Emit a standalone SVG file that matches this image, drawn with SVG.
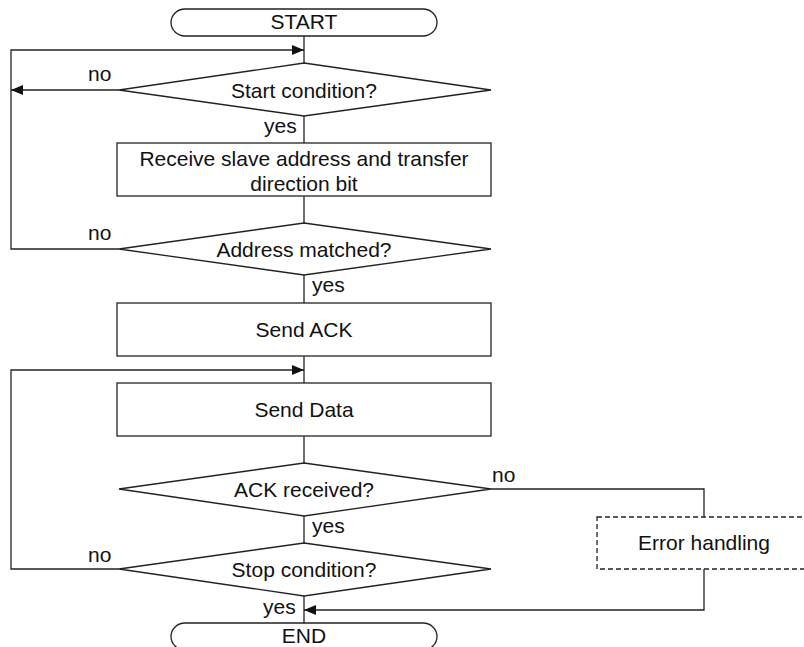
<svg xmlns="http://www.w3.org/2000/svg" width="804" height="647" viewBox="0 0 804 647">
<style>
.s{fill:#fff;stroke:#222;stroke-width:1.3}
.d{fill:#fff;stroke:#222;stroke-width:1.3;stroke-dasharray:5,3}
.c{fill:none;stroke:#222;stroke-width:1.3}
.t{font-family:"Liberation Sans",Arial,sans-serif;font-size:21px;fill:#111}
.m{text-anchor:middle}
</style>
<defs>
<marker id="ah" markerUnits="userSpaceOnUse" markerWidth="12" markerHeight="10" refX="12" refY="5" orient="auto">
<path d="M0,0 L12,5 L0,10 z" fill="#111"/>
</marker>
</defs>
<rect width="804" height="647" fill="#fff"/>
<g id="connectors">
<line class="c" x1="304" y1="36" x2="304" y2="63"/>
<line class="c" x1="304" y1="116" x2="304" y2="143"/>
<line class="c" x1="304" y1="196" x2="304" y2="223"/>
<line class="c" x1="304" y1="275" x2="304" y2="303"/>
<line class="c" x1="304" y1="356" x2="304" y2="383"/>
<line class="c" x1="304" y1="436" x2="304" y2="463"/>
<line class="c" x1="304" y1="516" x2="304" y2="543"/>
<line class="c" x1="304" y1="596" x2="304" y2="623"/>
<polyline class="c" points="119,90 11,90" marker-end="url(#ah)"/>
<polyline class="c" points="119,249 11,249 11,50 304,50" marker-end="url(#ah)"/>
<polyline class="c" points="119,569 11,569 11,370 304,370" marker-end="url(#ah)"/>
<polyline class="c" points="491,489 704,489 704,517"/>
<polyline class="c" points="704,569 704,610 304,610" marker-end="url(#ah)"/>
<text class="t" x="88" y="81">no</text>
<text class="t" x="264" y="133">yes</text>
<text class="t" x="88" y="240">no</text>
<text class="t" x="312" y="292">yes</text>
<text class="t" x="492" y="482">no</text>
<text class="t" x="312" y="533">yes</text>
<text class="t" x="88" y="562">no</text>
<text class="t" x="263" y="614">yes</text>
</g>
<g id="start">
<rect class="s" x="171" y="9" width="266" height="27" rx="14" ry="13.5"/>
<text class="t m" x="304" y="29">START</text>
</g>
<g id="start-condition">
<polygon class="s" points="304,63 491,90 304,116 119,90"/>
<text class="t m" x="304" y="98">Start condition?</text>
</g>
<g id="receive-address">
<rect class="s" x="117" y="143" width="374" height="53"/>
<text class="t m" x="304" y="166">Receive slave address and transfer</text>
<text class="t m" x="304" y="191">direction bit</text>
</g>
<g id="address-matched">
<polygon class="s" points="304,223 491,249 304,275 119,249"/>
<text class="t m" x="304" y="257">Address matched?</text>
</g>
<g id="send-ack">
<rect class="s" x="117" y="303" width="374" height="53"/>
<text class="t m" x="304" y="337">Send ACK</text>
</g>
<g id="send-data">
<rect class="s" x="117" y="383" width="374" height="53"/>
<text class="t m" x="304" y="417">Send Data</text>
</g>
<g id="ack-received">
<polygon class="s" points="304,463 491,489 304,516 119,489"/>
<text class="t m" x="304" y="497">ACK received?</text>
</g>
<g id="stop-condition">
<polygon class="s" points="304,543 491,569 304,596 119,569"/>
<text class="t m" x="304" y="577">Stop condition?</text>
</g>
<g id="error-handling">
<rect class="d" x="597" y="517" width="214" height="52"/>
<text class="t m" x="704" y="550">Error handling</text>
</g>
<g id="end">
<rect class="s" x="171" y="623" width="266" height="27" rx="14" ry="13.5"/>
<text class="t m" x="304" y="643">END</text>
</g>
</svg>
